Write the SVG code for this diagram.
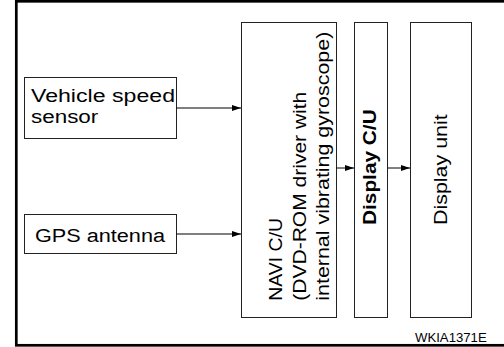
<svg xmlns="http://www.w3.org/2000/svg" width="504" height="347" viewBox="0 0 504 347">
<style>
.box{fill:#fff;stroke:#222;stroke-width:1}
.t{font-family:"Liberation Sans",Arial,sans-serif;fill:#000}
.h{font-size:18px}
.v{font-size:19px}
.b{font-weight:bold}
.c{stroke:#000;stroke-width:1;fill:none}
</style>
<defs>
<marker id="ah" markerWidth="10" markerHeight="8" refX="9" refY="4" orient="auto" markerUnits="userSpaceOnUse">
<path d="M0,1 L9,4 L0,7 Z" fill="#000"/>
</marker>
</defs>
<rect x="0" y="0" width="504" height="347" fill="#fff"/>
<rect x="16.3" y="1.3" width="490" height="344" fill="none" stroke="#000" stroke-width="2.7"/>
<g id="vss">
<rect class="box" x="24.5" y="77.5" width="152" height="61"/>
<text class="t h" x="31" y="101.7" textLength="144" lengthAdjust="spacingAndGlyphs">Vehicle speed</text>
<text class="t h" x="31" y="122.7" textLength="67.3" lengthAdjust="spacingAndGlyphs">sensor</text>
</g>
<g id="gps">
<rect class="box" x="24.5" y="214.5" width="152" height="39"/>
<text class="t h" x="35" y="242.3" textLength="130" lengthAdjust="spacingAndGlyphs">GPS antenna</text>
</g>
<g id="navi">
<rect class="box" x="241.5" y="22.5" width="95" height="295"/>
<text class="t v" transform="translate(281.7,300.7) rotate(-90)" textLength="82.7" lengthAdjust="spacingAndGlyphs">NAVI C/U</text>
<text class="t v" transform="translate(306.2,300.7) rotate(-90)" textLength="209" lengthAdjust="spacingAndGlyphs">(DVD-ROM driver with</text>
<text class="t v" transform="translate(329.3,300.7) rotate(-90)" textLength="269" lengthAdjust="spacingAndGlyphs">internal vibrating gyroscope)</text>
</g>
<g id="dcu">
<rect class="box" x="354.5" y="22.5" width="33" height="295"/>
<text class="t v b" transform="translate(375.7,225) rotate(-90)" textLength="115.7" lengthAdjust="spacingAndGlyphs">Display C/U</text>
</g>
<g id="du">
<rect class="box" x="410.5" y="22.5" width="61" height="295"/>
<text class="t v" transform="translate(447.3,225) rotate(-90)" textLength="110.7" lengthAdjust="spacingAndGlyphs">Display unit</text>
</g>
<g id="connectors">
<line class="c" x1="176.5" y1="108" x2="241" y2="108" marker-end="url(#ah)"/>
<line class="c" x1="176.5" y1="234" x2="241" y2="234" marker-end="url(#ah)"/>
<line class="c" x1="336.5" y1="168" x2="354" y2="168" marker-end="url(#ah)"/>
<line class="c" x1="387.5" y1="168" x2="410" y2="168" marker-end="url(#ah)"/>
</g>
<text class="t" x="415" y="341.7" font-size="13.5" textLength="71.7" lengthAdjust="spacingAndGlyphs">WKIA1371E</text>
</svg>
